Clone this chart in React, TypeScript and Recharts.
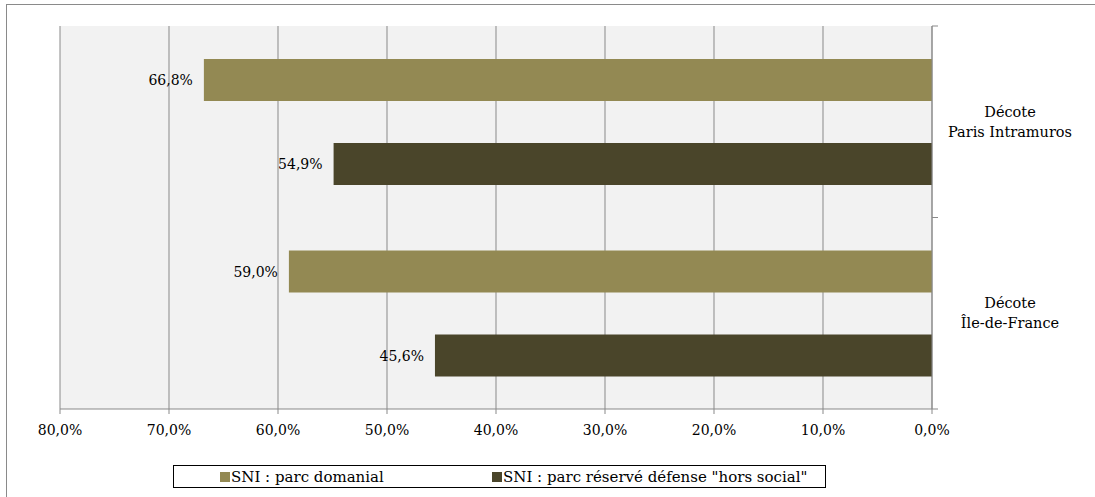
import { Bar, BarChart, CartesianGrid, LabelList, Legend, XAxis, YAxis } from "recharts";

const categories = ["Décote\nParis Intramuros", "Décote\nÎle-de-France"];
const parcDomanial = [0.668, 0.59];
const parcDefense = [0.549, 0.456];
const xTicks = [0, 0.1, 0.2, 0.3, 0.4, 0.5, 0.6, 0.7, 0.8];

const seriesNames = ["SNI : parc domanial", 'SNI : parc réservé défense "hors social"'];
const seriesColors = ["#938953", "#4A452A"];

const data = categories.map((category, i) => ({
  category,
  domanial: parcDomanial[i],
  defense: parcDefense[i],
}));

const FONT = '"DejaVu Serif", serif';
const GRID = "#898989";

const pct = (v: number) => `${(Number(v) * 100).toFixed(1).replace(".", ",")}%`;

function ValueLabel(props: any) {
  const x = Number(props.x);
  const y = Number(props.y);
  const w = Number(props.width);
  const h = Number(props.height);
  const left = Math.min(x, x + w);
  return (
    <text x={left - 11} y={y + h / 2} dy="0.36em" textAnchor="end" fontSize={14} fill="#000">
      {pct(props.value)}
    </text>
  );
}

function CategoryTick(props: any) {
  const { x, y, payload, index } = props;
  const half = payload.offset ?? 95.75;
  const lines = String(payload.value).split("\n");
  return (
    <g>
      <line x1={x - 6} x2={x} y1={y - half} y2={y - half} stroke={GRID} />
      {index === categories.length - 1 && <line x1={x - 6} x2={x} y1={y + half} y2={y + half} stroke={GRID} />}
      <text x={x + 72} y={y} textAnchor="middle" fontSize={14.5} fill="#000">
        <tspan x={x + 72} y={y - 5}>{lines[0]}</tspan>
        <tspan x={x + 72} y={y + 15}>{lines[1]}</tspan>
      </text>
    </g>
  );
}

function LegendBox() {
  return (
    <div
      style={{
        boxSizing: "border-box",
        width: 653,
        height: 23,
        border: "1px solid #000",
        display: "flex",
        alignItems: "center",
        paddingLeft: 46,
        fontFamily: FONT,
        fontSize: 15,
        color: "#000",
        background: "#fff",
      }}
    >
      {seriesNames.map((name, i) => (
        <div key={name} style={{ display: "flex", alignItems: "center", width: i === 0 ? 272 : undefined, whiteSpace: "nowrap" }}>
          <span style={{ display: "inline-block", width: 10, height: 10, background: seriesColors[i], marginRight: 1 }} />
          <span>{name}</span>
        </div>
      ))}
    </div>
  );
}

export default function App() {
  return (
    <div style={{ position: "absolute", left: 0, top: 0, width: 1095, height: 497, background: "#fff", overflow: "hidden" }}>
      <div
        style={{
          position: "absolute",
          left: 6,
          top: 4,
          width: 1200,
          height: 600,
          borderTop: "1px solid #8a8a8a",
          borderLeft: "1px solid #8a8a8a",
        }}
      />
      <BarChart
        width={1095}
        height={497}
        data={data}
        layout="vertical"
        margin={{ top: 26, left: 60, right: 13, bottom: 48 }}
        barSize={42}
        barGap={42}
        style={{ fontFamily: FONT }}
      >
        <CartesianGrid horizontal={false} stroke={GRID} fill="#F2F2F2" />
        <XAxis
          type="number"
          domain={[0, 0.8]}
          ticks={xTicks}
          interval={0}
          reversed
          height={40}
          stroke={GRID}
          tickSize={5}
          tickMargin={11}
          tick={{ fill: "#000", fontSize: 14 }}
          tickFormatter={pct}
        />
        <YAxis
          type="category"
          dataKey="category"
          orientation="right"
          width={150}
          stroke={GRID}
          tickLine={false}
          tickSize={6}
          tickMargin={0}
          interval={0}
          tick={<CategoryTick />}
        />
        <Legend
          layout="horizontal"
          verticalAlign="middle"
          align="center"
          wrapperStyle={{ left: 173, top: 465, width: 653, height: 23 }}
          content={<LegendBox />}
        />
        <Bar dataKey="domanial" name={seriesNames[0]} fill={seriesColors[0]} isAnimationActive={false}>
          <LabelList dataKey="domanial" content={<ValueLabel />} />
        </Bar>
        <Bar dataKey="defense" name={seriesNames[1]} fill={seriesColors[1]} isAnimationActive={false}>
          <LabelList dataKey="defense" content={<ValueLabel />} />
        </Bar>
      </BarChart>
    </div>
  );
}
